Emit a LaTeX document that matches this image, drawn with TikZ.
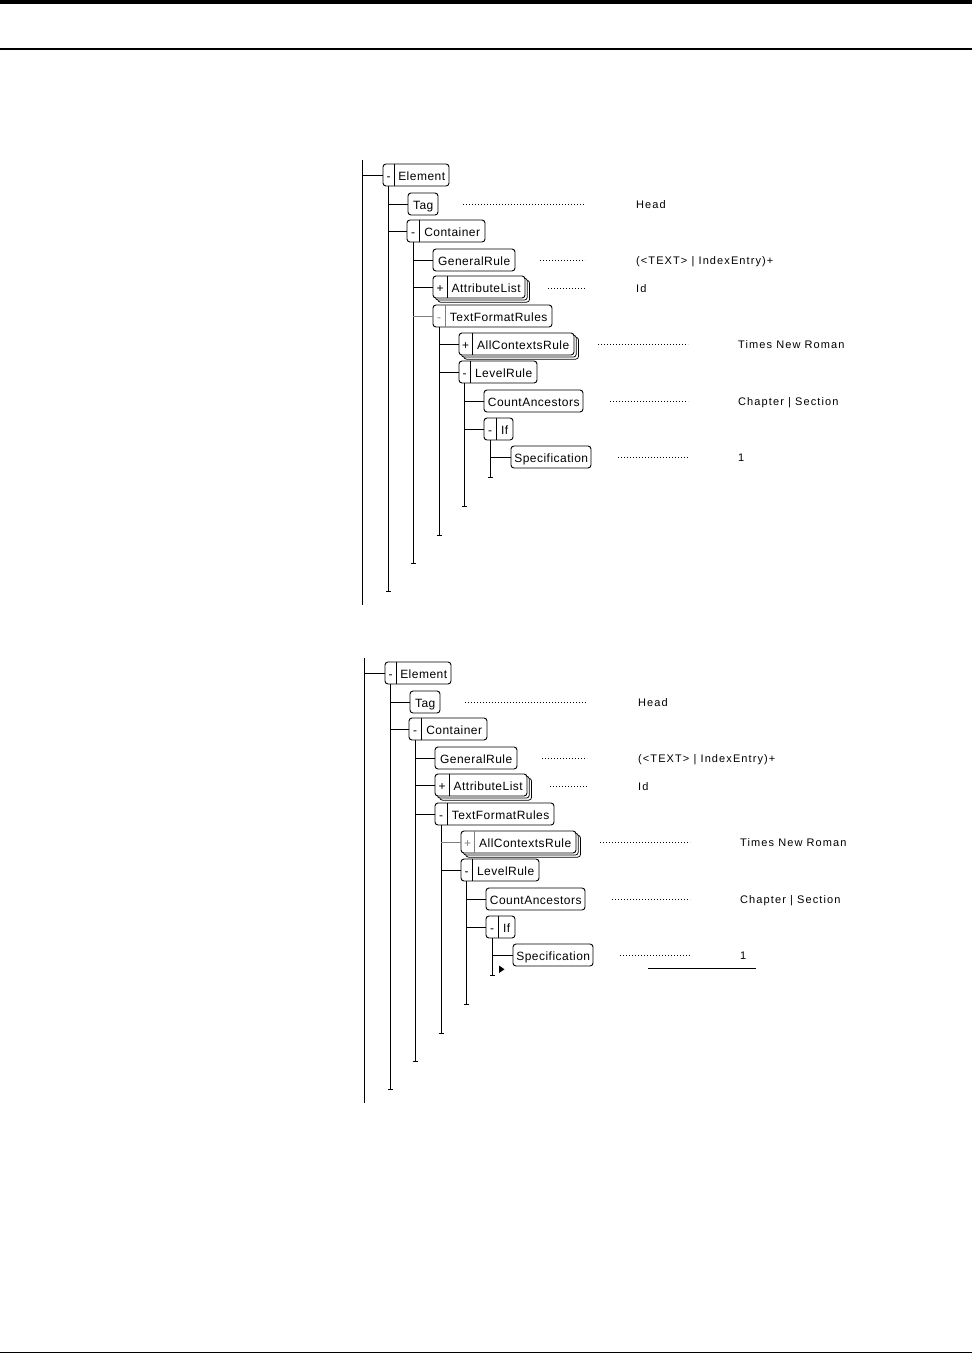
\documentclass[tikz,border=0pt]{standalone}
\usepackage{fontspec}
\setmainfont{Liberation Sans}
\newfontfamily\labfont[LetterSpace=4]{Liberation Sans}
\newfontfamily\txtfont[LetterSpace=10]{Liberation Sans}
\usetikzlibrary{calc}
\definecolor{gry}{gray}{0.5}
\tikzset{
  ln/.style={line width=1pt},
  sgn/.style={inner sep=0pt, minimum height=22pt, text height=10pt, text depth=0pt, anchor=west, font=\labfont\fontsize{12}{12}\selectfont},
  lab/.style={inner sep=0pt, minimum height=22pt, text height=10pt, text depth=0pt, anchor=west, font=\labfont\fontsize{12}{12}\selectfont},
  frame/.style={draw, rounded corners=3pt, line width=0.9pt, fill=white},
  shadow/.style={draw, rounded corners=3pt, line width=0.75pt, fill=white},
  dots/.style={line width=0.8pt, dash pattern=on 0.8pt off 2.2pt},
  val/.style={anchor=base west, inner sep=0pt, font=\txtfont\fontsize{11}{12}\selectfont},
}
% name, left, sign right, right, y, sign, label, sign colour
\newcommand\signbox[8]{%
  \draw[frame] (#2,#5-11) rectangle (#4,#5+11);
  \node[sgn, minimum width={#3-#2}, text=#8] (#1S) at (#2,#5) {#6};
  \node[lab, minimum width={#4-#3}] (#1L) at (#3,#5) {#7};
  \draw[line width=0.9pt, #8] (#1S.north east) -- (#1S.south east);
}
% name, left, right, y, label
\newcommand\plainbox[5]{%
  \draw[frame] (#2,#4-11) rectangle (#3,#4+11);
  \node[lab, minimum width={#3-#2}] (#1) at (#2,#4) {#5};
}
% left, right, y
\newcommand\stackbox[3]{%
  \draw[shadow] (#1+4.6,#3-11+4.2) rectangle (#2+4.6,#3+11+4.2);
  \draw[shadow] (#1+2.3,#3-11+2.1) rectangle (#2+2.3,#3+11+2.1);
}
\newcommand\tick[1]{\draw[ln] ($(#1)+(-2.5,0)$) -- ($(#1)+(2.5,0)$);}
% prefix, TextFormatRules colour, AllContextsRule colour
\newcommand\drawtree[3]{%
  \coordinate (#1rt) at (362,160);
  \coordinate (#1rb) at (362,605);
  \draw[ln] (#1rt) -- (#1rb);
  \signbox{#1el}{383}{394}{449}{175}{-}{Element}{black}
  \draw[ln] (#1rt |- #1elS.west) -- (#1elS.west);
  \coordinate (#1elE) at (#1elS.south |- 0,591);
  \draw[ln] (#1elS.south) -- (#1elE); \tick{#1elE}
  \plainbox{#1tag}{408}{438}{204}{Tag}
  \draw[ln] (#1elS.south |- #1tag.west) -- (#1tag.west);
  \signbox{#1con}{407}{419}{485}{231}{-}{Container}{black}
  \draw[ln] (#1elS.south |- #1conS.west) -- (#1conS.west);
  \coordinate (#1conE) at (#1conS.south |- 0,563);
  \draw[ln] (#1conS.south) -- (#1conE); \tick{#1conE}
  \plainbox{#1gen}{433}{515}{260}{GeneralRule}
  \draw[ln] (#1conS.south |- #1gen.west) -- (#1gen.west);
  \stackbox{433}{525}{287}
  \signbox{#1att}{433}{447}{525}{287}{+}{AttributeList}{black}
  \draw[ln] (#1conS.south |- #1attS.west) -- (#1attS.west);
  \signbox{#1tfr}{433}{445}{552}{316}{-}{TextFormatRules}{#2}
  \draw[ln, #2] (#1conS.south |- #1tfrS.west) -- (#1tfrS.west);
  \coordinate (#1tfrE) at (#1tfrS.south |- 0,535);
  \draw[ln] (#1tfrS.south) -- (#1tfrE); \tick{#1tfrE}
  \stackbox{459}{574}{344}
  \signbox{#1acr}{459}{472}{574}{344}{+}{AllContextsRule}{#3}
  \draw[ln, #3] (#1tfrS.south |- #1acrS.west) -- (#1acrS.west);
  \signbox{#1lev}{459}{470}{537}{372}{-}{LevelRule}{black}
  \draw[ln] (#1tfrS.south |- #1levS.west) -- (#1levS.west);
  \coordinate (#1levE) at (#1levS.south |- 0,506);
  \draw[ln] (#1levS.south) -- (#1levE); \tick{#1levE}
  \plainbox{#1cnt}{484}{583}{401}{CountAncestors}
  \draw[ln] (#1levS.south |- #1cnt.west) -- (#1cnt.west);
  \signbox{#1if}{484}{496}{513}{429}{-}{If}{black}
  \draw[ln] (#1levS.south |- #1ifS.west) -- (#1ifS.west);
  \coordinate (#1ifE) at (#1ifS.south |- 0,477);
  \draw[ln] (#1ifS.south) -- (#1ifE); \tick{#1ifE}
  \plainbox{#1spec}{511}{591}{457}{Specification}
  \draw[ln] (#1ifS.south |- #1spec.west) -- (#1spec.west);
  % dotted leaders and values
  \node[val] (#1vHead) at (636,208) {Head};
  \node[val] (#1vGen) at (636,264) {(<TEXT> | IndexEntry)+};
  \node[val] (#1vId) at (636,292) {Id};
  \node[val] (#1vTNR) at (738,348) {Times New Roman};
  \node[val] (#1vCS) at (738,405) {Chapter | Section};
  \node[val] (#1vOne) at (738,461) {1};
  \coordinate (#1dTag) at (463,204); \coordinate (#1dGen) at (540,260);
  \coordinate (#1dAtt) at (548,288); \coordinate (#1dAcr) at (598,344);
  \coordinate (#1dCnt) at (610,401); \coordinate (#1dSpec) at (618,457);
  \draw[dots] (#1dTag) -- (585,204);
  \draw[dots] (#1dGen) -- (585,260);
  \draw[dots] (#1dAtt) -- (585,288);
  \draw[dots] (#1dAcr) -- (688,344);
  \draw[dots] (#1dCnt) -- (688,401);
  \draw[dots] (#1dSpec) -- (688,457);
}
\begin{document}
\begin{tikzpicture}[x=1pt,y=-1pt]
  \useasboundingbox (0,0) rectangle (972,1353);
  \fill (0,0) rectangle (972,3.6);
  \coordinate (hl) at (0,49); \coordinate (hr) at (972,49);
  \draw[line width=1.1pt] (hl) -- (hr);
  \fill (0,1351.6) rectangle (972,1353);
  \drawtree{a}{gry}{black}
  \begin{scope}[shift={(2,498)}]
    \drawtree{b}{black}{gry}
  \end{scope}
  % cursor marker and underline in the lower tree
  \fill (499,965.5) -- (504.5,969.3) -- (499,973) -- cycle;
  \coordinate (ulA) at (648,968.5); \coordinate (ulB) at (756,968.5);
  \draw[line width=1.1pt] (ulA) -- (ulB);
\end{tikzpicture}
\end{document}
